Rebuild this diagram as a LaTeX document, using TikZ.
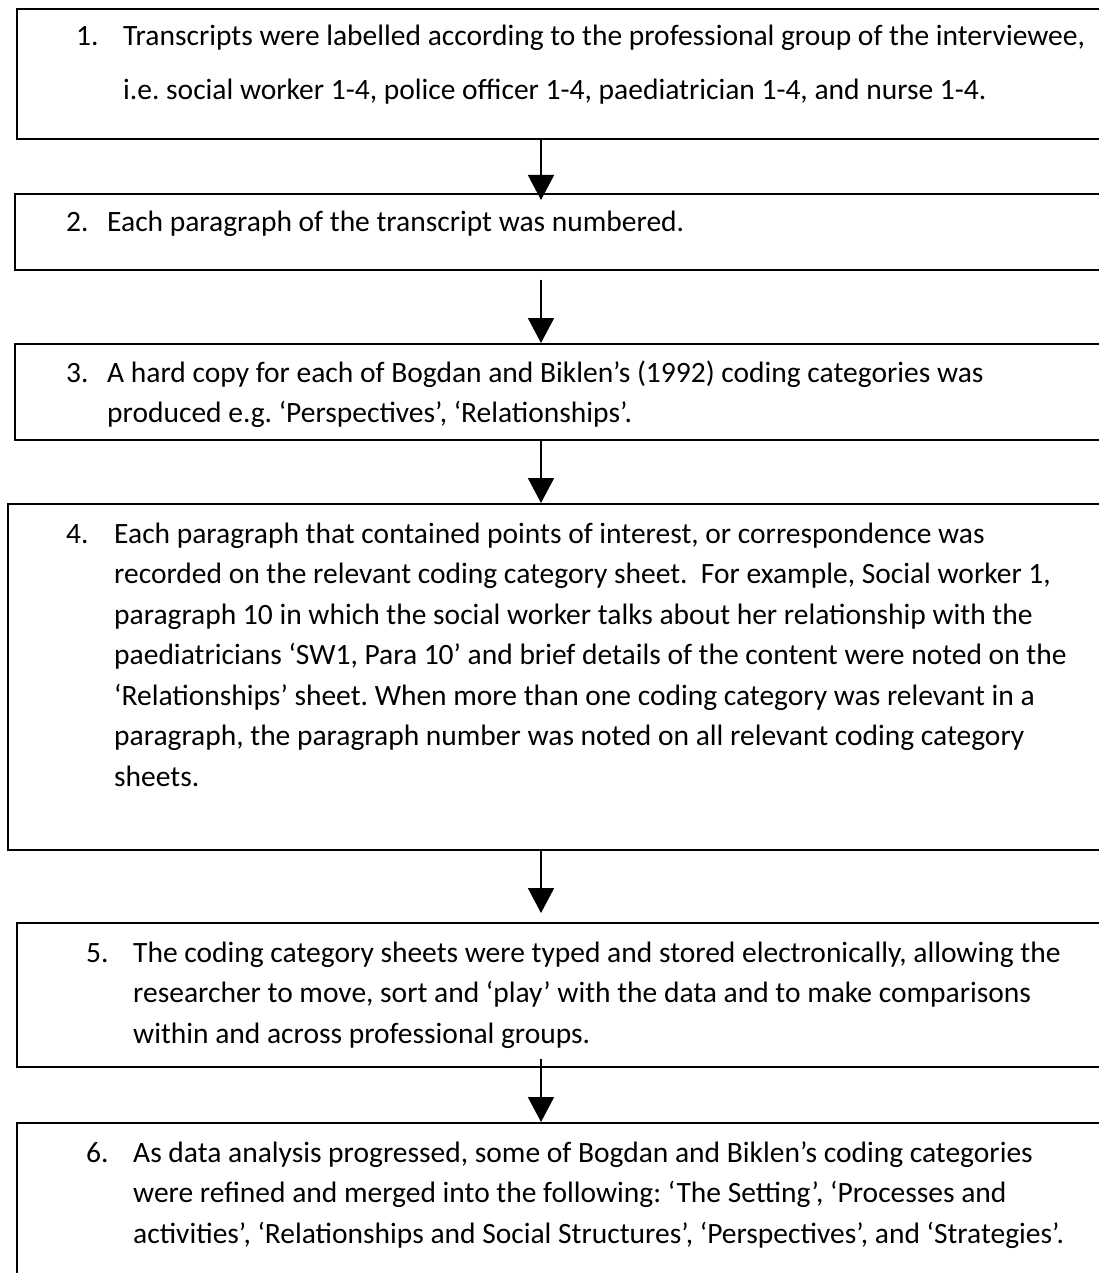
\documentclass[tikz,border=0pt]{standalone}
\usepackage{fontspec}
\setmainfont{Carlito}
\usetikzlibrary{arrows.meta}
\frenchspacing
\begin{document}
\begin{tikzpicture}[x=1pt,y=-1pt,
  box/.style={draw,line width=1.8pt,inner sep=0pt,anchor=north west,minimum width=1100pt},
  txt/.style={anchor=base west,inner sep=0pt,align=left,font=\fontsize{29.5}{40.5}\selectfont\frenchspacing},
  num/.style={anchor=base west,inner sep=0pt,font=\fontsize{29.5}{40.5}\selectfont},
  arr/.style={line width=1.8pt,-{Triangle[width=26pt,length=25pt]}}]
\useasboundingbox (0,0) rectangle (1099,1273);
\clip (0,0) rectangle (1099,1273);
\fill[white] (0,0) rectangle (1099,1273);
\node[box,minimum height=130pt] (b1) at (16,8) {};
\node[box,minimum height=76pt] (b2) at (14,193) {};
\node[box,minimum height=96pt] (b3) at (14,343) {};
\node[box,minimum height=346pt] (b4) at (7,503) {};
\node[box,minimum height=144pt] (b5) at (16,922) {};
\node[box,minimum height=200pt] (b6) at (16,1122) {};
\coordinate (ax) at (541,0);
\draw[arr,shorten >=-7pt] (b1.south -| ax) -- (b2.north -| ax);
\draw[arr,shorten <=9pt] (b2.south -| ax) -- (b3.north -| ax);
\draw[arr] (b3.south -| ax) -- (b4.north -| ax);
\draw[arr,shorten >=9pt] (b4.south -| ax) -- (b5.north -| ax);
\draw[arr,shorten <=-9pt] (b5.south -| ax) -- (b6.north -| ax);
% text nodes: base anchor = baseline of the LAST line
\node[num] (n1) at (76,46) {1.};
\node[txt,font=\fontsize{29.5}{54}\selectfont\frenchspacing] (t1) at (123,100) {Transcripts were labelled according to the professional group of the interviewee,\\i.e. social worker 1-4, police officer 1-4, paediatrician 1-4, and nurse 1-4.};
\node[num] (n2) at (66,232) {2.};
\node[txt] (t2) at (107,232) {Each paragraph of the transcript was numbered.};
\node[num] (n3) at (66,382) {3.};
\node[txt] (t3) at (107,422.5) {A hard copy for each of Bogdan and Biklen’s (1992) coding categories was\\produced e.g. ‘Perspectives’, ‘Relationships’.};
\node[num] (n4) at (66,543) {4.};
\node[txt] (t4) at (114,786) {Each paragraph that contained points of interest, or correspondence was\\recorded on the relevant coding category sheet.\ \ For example, Social worker 1,\\paragraph 10 in which the social worker talks about her relationship with the\\paediatricians ‘SW1, Para 10’ and brief details of the content were noted on the\\‘Relationships’ sheet. When more than one coding category was relevant in a\\paragraph, the paragraph number was noted on all relevant coding category\\sheets.};
\node[num] (n5) at (86,962) {5.};
\node[txt] (t5) at (133,1043) {The coding category sheets were typed and stored electronically, allowing the\\researcher to move, sort and ‘play’ with the data and to make comparisons\\within and across professional groups.};
\node[num] (n6) at (86,1162) {6.};
\node[txt] (t6) at (133,1243) {As data analysis progressed, some of Bogdan and Biklen’s coding categories\\were refined and merged into the following: ‘The Setting’, ‘Processes and\\activities’, ‘Relationships and Social Structures’, ‘Perspectives’, and ‘Strategies’.};
\end{tikzpicture}
\end{document}
